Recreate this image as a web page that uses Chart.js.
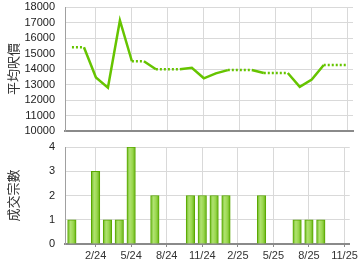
<!DOCTYPE html>
<html><head><meta charset="utf-8">
<script src="https://cdn.jsdelivr.net/npm/chart.js@4.4.1/dist/chart.umd.min.js"></script>
<style>
html,body{margin:0;padding:0;background:#fff;width:360px;height:270px;overflow:hidden}
#c1{position:absolute;left:0;top:0}
#c2{position:absolute;left:0;top:135px}
</style></head><body>
<canvas id="c1" width="360" height="140"></canvas>
<canvas id="c2" width="360" height="135"></canvas>
<script>
const months = ['12/23','1/24','2/24','3/24','4/24','5/24','6/24','7/24','8/24','9/24','10/24','11/24',
                '12/24','1/25','2/25','3/25','4/25','5/25','6/25','7/25','8/25','9/25','10/25','11/25'];
const priceValues = [15400,15400,13450,12800,17130,14500,14500,13980,13980,13980,14080,13400,
                     13720,13930,13930,13930,13740,13740,13740,12850,13320,14260,14260,14260];
const dealCounts = [1,0,3,1,1,4,0,2,0,0,2,2,2,2,0,0,2,0,0,1,1,1,0,0];
const tickLabels = ['2/24','5/24','8/24','11/24','2/25','5/25','8/25','11/25'];
const priceTicks = [10000,11000,12000,13000,14000,15000,16000,17000,18000];
const countTicks = [0,1,2,3,4];

Chart.defaults.font.family = "'Liberation Sans', Arial, sans-serif";
Chart.defaults.font.size = 11;
Chart.defaults.color = '#333';

const tickPositions = tickLabels.map(l => months.indexOf(l));
const XMIN = -0.58, XMAX = 23.44;
const gridColor = '#d9d9d9';
const titleFont = {family: "'Noto Sans CJK TC','Noto Sans CJK SC',sans-serif", size: 13};

function xScale(showLabels) {
  return {
    type: 'linear', min: XMIN, max: XMAX, offset: false,
    afterBuildTicks: s => { s.ticks = tickPositions.map(v => ({value: v})); },
    afterFit: s => { s.height = showLabels ? 26 : 0; },
    grid: {color: gridColor, drawTicks: showLabels, tickLength: 3, tickColor: '#8a8a8a', offset: false},
    border: {color: '#8a8a8a', width: 2},
    ticks: {display: showLabels, padding: 2, autoSkip: false, maxRotation: 0,
            callback: v => months[v]}
  };
}
function yScale(min, max, tickVals, title) {
  return {
    min: min, max: max,
    afterBuildTicks: s => { s.ticks = tickVals.map(v => ({value: v})); },
    afterFit: s => { s.width = 65; },
    grid: {color: gridColor, drawTicks: true, tickLength: 10, tickColor: 'rgba(0,0,0,0)'},
    border: {color: '#a0a0a0', width: 1},
    ticks: {padding: 0, color: '#222', autoSkip: false, callback: v => String(v)},
    title: {display: true, text: title, font: titleFont, color: '#333', padding: {top: 5, bottom: 0}}
  };
}

new Chart(document.getElementById('c1'), {
  type: 'line',
  data: {datasets: [{
    data: priceValues.map((v, i) => ({x: i, y: v})),
    borderColor: '#66c400', borderWidth: 2.5, pointRadius: 0, tension: 0, fill: false,
    segment: {borderDash: ctx => dealCounts[ctx.p1DataIndex] === 0 ? [2, 2] : undefined}
  }]},
  options: {
    responsive: false, animation: false, devicePixelRatio: 1,
    layout: {padding: {top: 7, right: 7, bottom: 9, left: 0}},
    plugins: {legend: {display: false}, tooltip: {enabled: false}},
    scales: {x: xScale(false), y: yScale(10000, 18000, priceTicks, '平均呎價')}
  }
});

new Chart(document.getElementById('c2'), {
  type: 'bar',
  data: {datasets: [{
    data: dealCounts.map((v, i) => ({x: i, y: v || null})),
    barThickness: 8.5,
    borderColor: '#5aa800', borderWidth: 1, borderSkipped: 'bottom',
    backgroundColor: ctx => {
      const chart = ctx.chart;
      if (ctx.type !== 'data' || !chart.scales.x) return '#8fd040';
      const cx = chart.scales.x.getPixelForValue(ctx.dataIndex);
      if (!isFinite(cx)) return '#8fd040';
      const g = chart.ctx.createLinearGradient(cx - 4.5, 0, cx + 4.5, 0);
      g.addColorStop(0, '#66b618');
      g.addColorStop(0.35, '#b0e270');
      g.addColorStop(0.65, '#9ad74e');
      g.addColorStop(1, '#5fae0c');
      return g;
    }
  }]},
  options: {
    responsive: false, animation: false, devicePixelRatio: 1,
    layout: {padding: {top: 12, right: 7, bottom: 0, left: 0}},
    plugins: {legend: {display: false}, tooltip: {enabled: false}},
    scales: {x: xScale(true), y: yScale(0, 4, countTicks, '成交宗數')}
  }
});
</script>
</body></html>
